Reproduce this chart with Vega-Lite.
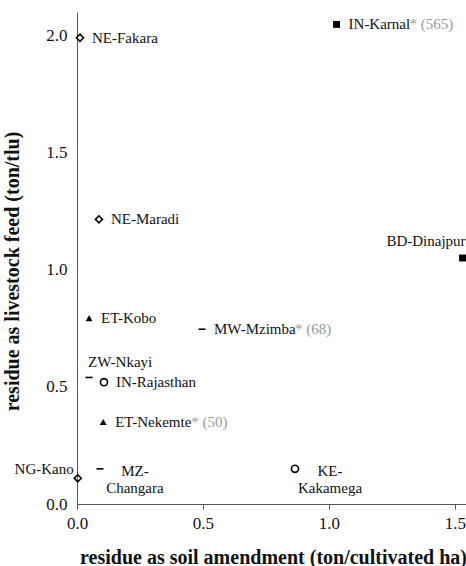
{
  "$schema": "https://vega.github.io/schema/vega-lite/v6.json",
  "width": 389,
  "height": 492,
  "autosize": {"type": "none"},
  "padding": {"left": 77, "top": 12, "right": 0, "bottom": 62},
  "background": "white",
  "config": {
    "view": {"stroke": null},
    "font": "Liberation Serif",
    "axis": {
      "grid": false,
      "domainColor": "#555555",
      "tickColor": "#555555",
      "labelFont": "Liberation Serif",
      "labelFontSize": 17,
      "labelColor": "#111111",
      "labelFlush": false,
      "labelOverlap": false,
      "titleFont": "Liberation Serif",
      "titleFontSize": 20,
      "titleFontWeight": "bold",
      "titleColor": "#111111"
    }
  },
  "data": {
    "values": [
      {"name": "NE-Fakara", "label": "NE-Fakara", "group": "A", "x": 0.012, "y": 1.99},
      {"name": "IN-Karnal", "label": "IN-Karnal", "group": "B", "x": 1.03, "y": 2.047, "note": "* (565)"},
      {"name": "NE-Maradi", "label": "NE-Maradi", "group": "A", "x": 0.087, "y": 1.215},
      {"name": "BD-Dinajpur", "label": "BD-Dinajpur", "group": "B", "x": 1.53, "y": 1.05},
      {"name": "ET-Kobo", "label": "ET-Kobo", "group": "C", "x": 0.048, "y": 0.793},
      {"name": "MW-Mzimba", "label": "MW-Mzimba", "group": "D", "x": 0.496, "y": 0.746, "note": "* (68)"},
      {"name": "ZW-Nkayi", "label": "ZW-Nkayi", "group": "D", "x": 0.048, "y": 0.54},
      {"name": "IN-Rajasthan", "label": "IN-Rajasthan", "group": "E", "x": 0.107, "y": 0.52},
      {"name": "ET-Nekemte", "label": "ET-Nekemte", "group": "C", "x": 0.104, "y": 0.35, "note": "* (50)"},
      {"name": "NG-Kano", "label": "NG-Kano", "group": "A", "x": 0.003, "y": 0.11},
      {"name": "MZ-Changara", "label": "MZ-\nChangara", "group": "D", "x": 0.091, "y": 0.15},
      {"name": "KE-Kakamega", "label": "KE-\nKakamega", "group": "E", "x": 0.865, "y": 0.15}
    ]
  },
  "encoding": {
    "x": {
      "field": "x", "type": "quantitative",
      "scale": {"domain": [0, 1.5437], "nice": false, "zero": false},
      "axis": {
        "title": "residue as soil amendment (ton/cultivated ha)",
        "values": [0, 0.5, 1, 1.5], "format": ".1f",
        "tickSize": 5, "labelPadding": 6, "titlePadding": 16,
        "titleX": 196
      }
    },
    "y": {
      "field": "y", "type": "quantitative",
      "scale": {"domain": [0, 2.1], "nice": false, "zero": false},
      "axis": {
        "title": "residue as livestock feed (ton/tlu)",
        "values": [0, 0.5, 1, 1.5, 2], "format": ".1f",
        "ticks": false, "labelPadding": 10,
        "titleX": -65, "titleY": 259, "titleBaseline": "middle"
      }
    }
  },
  "layer": [
    {
      "transform": [{"filter": {"field": "group", "oneOf": ["B", "C"]}}],
      "mark": {"type": "point", "filled": true, "color": "#000000", "opacity": 1, "size": 48},
      "encoding": {
        "shape": {"field": "group", "type": "nominal", "legend": null,
          "scale": {"domain": ["A", "B", "C", "D", "E"], "range": ["diamond", "square", "triangle-up", "stroke", "circle"]}}
      }
    },
    {
      "transform": [{"filter": {"field": "group", "oneOf": ["A", "D", "E"]}}],
      "mark": {"type": "point", "filled": false, "color": "#000000", "opacity": 1, "size": 50, "strokeWidth": 1.6},
      "encoding": {
        "shape": {"field": "group", "type": "nominal", "legend": null,
          "scale": {"domain": ["A", "B", "C", "D", "E"], "range": ["diamond", "square", "triangle-up", "stroke", "circle"]}}
      }
    },
    {
      "transform": [{"filter": {"field": "name", "equal": "IN-Karnal"}}],
      "mark": {"type": "text", "align": "left", "baseline": "middle", "dx": 73, "fontSize": 15, "font": "Liberation Serif", "color": "#9a9a9a"},
      "encoding": {"text": {"field": "note", "type": "nominal"}}
    },
    {
      "transform": [{"filter": {"field": "name", "equal": "MW-Mzimba"}}],
      "mark": {"type": "text", "align": "left", "baseline": "middle", "dx": 93, "fontSize": 15, "font": "Liberation Serif", "color": "#9a9a9a"},
      "encoding": {"text": {"field": "note", "type": "nominal"}}
    },
    {
      "transform": [{"filter": {"field": "name", "equal": "ET-Nekemte"}}],
      "mark": {"type": "text", "align": "left", "baseline": "middle", "dx": 88, "fontSize": 15, "font": "Liberation Serif", "color": "#9a9a9a"},
      "encoding": {"text": {"field": "note", "type": "nominal"}}
    },
    {
      "transform": [{"filter": {"field": "name", "oneOf": ["NE-Fakara", "IN-Karnal", "NE-Maradi", "ET-Kobo", "MW-Mzimba", "IN-Rajasthan", "ET-Nekemte"]}}],
      "mark": {"type": "text", "align": "left", "baseline": "middle", "dx": 12, "fontSize": 15, "font": "Liberation Serif", "color": "#111111"},
      "encoding": {"text": {"field": "label", "type": "nominal"}}
    },
    {
      "transform": [{"filter": {"field": "name", "equal": "ZW-Nkayi"}}],
      "mark": {"type": "text", "align": "left", "baseline": "middle", "dx": -1, "dy": -15, "fontSize": 15, "font": "Liberation Serif", "color": "#111111"},
      "encoding": {"text": {"field": "label", "type": "nominal"}}
    },
    {
      "transform": [{"filter": {"field": "name", "equal": "NG-Kano"}}],
      "mark": {"type": "text", "align": "right", "baseline": "middle", "dx": -4, "dy": -9, "fontSize": 15, "font": "Liberation Serif", "color": "#111111"},
      "encoding": {"text": {"field": "label", "type": "nominal"}}
    },
    {
      "transform": [{"filter": {"field": "name", "equal": "BD-Dinajpur"}}],
      "mark": {"type": "text", "align": "right", "baseline": "middle", "dx": 3, "dy": -17, "fontSize": 15, "font": "Liberation Serif", "color": "#111111"},
      "encoding": {"text": {"field": "label", "type": "nominal"}}
    },
    {
      "transform": [{"filter": {"field": "name", "oneOf": ["MZ-Changara", "KE-Kakamega"]}}],
      "mark": {"type": "text", "align": "center", "baseline": "middle", "dx": 35, "dy": 2, "lineBreak": "\n", "lineHeight": 17, "fontSize": 15, "font": "Liberation Serif", "color": "#111111"},
      "encoding": {"text": {"field": "label", "type": "nominal"}}
    }
  ]
}
